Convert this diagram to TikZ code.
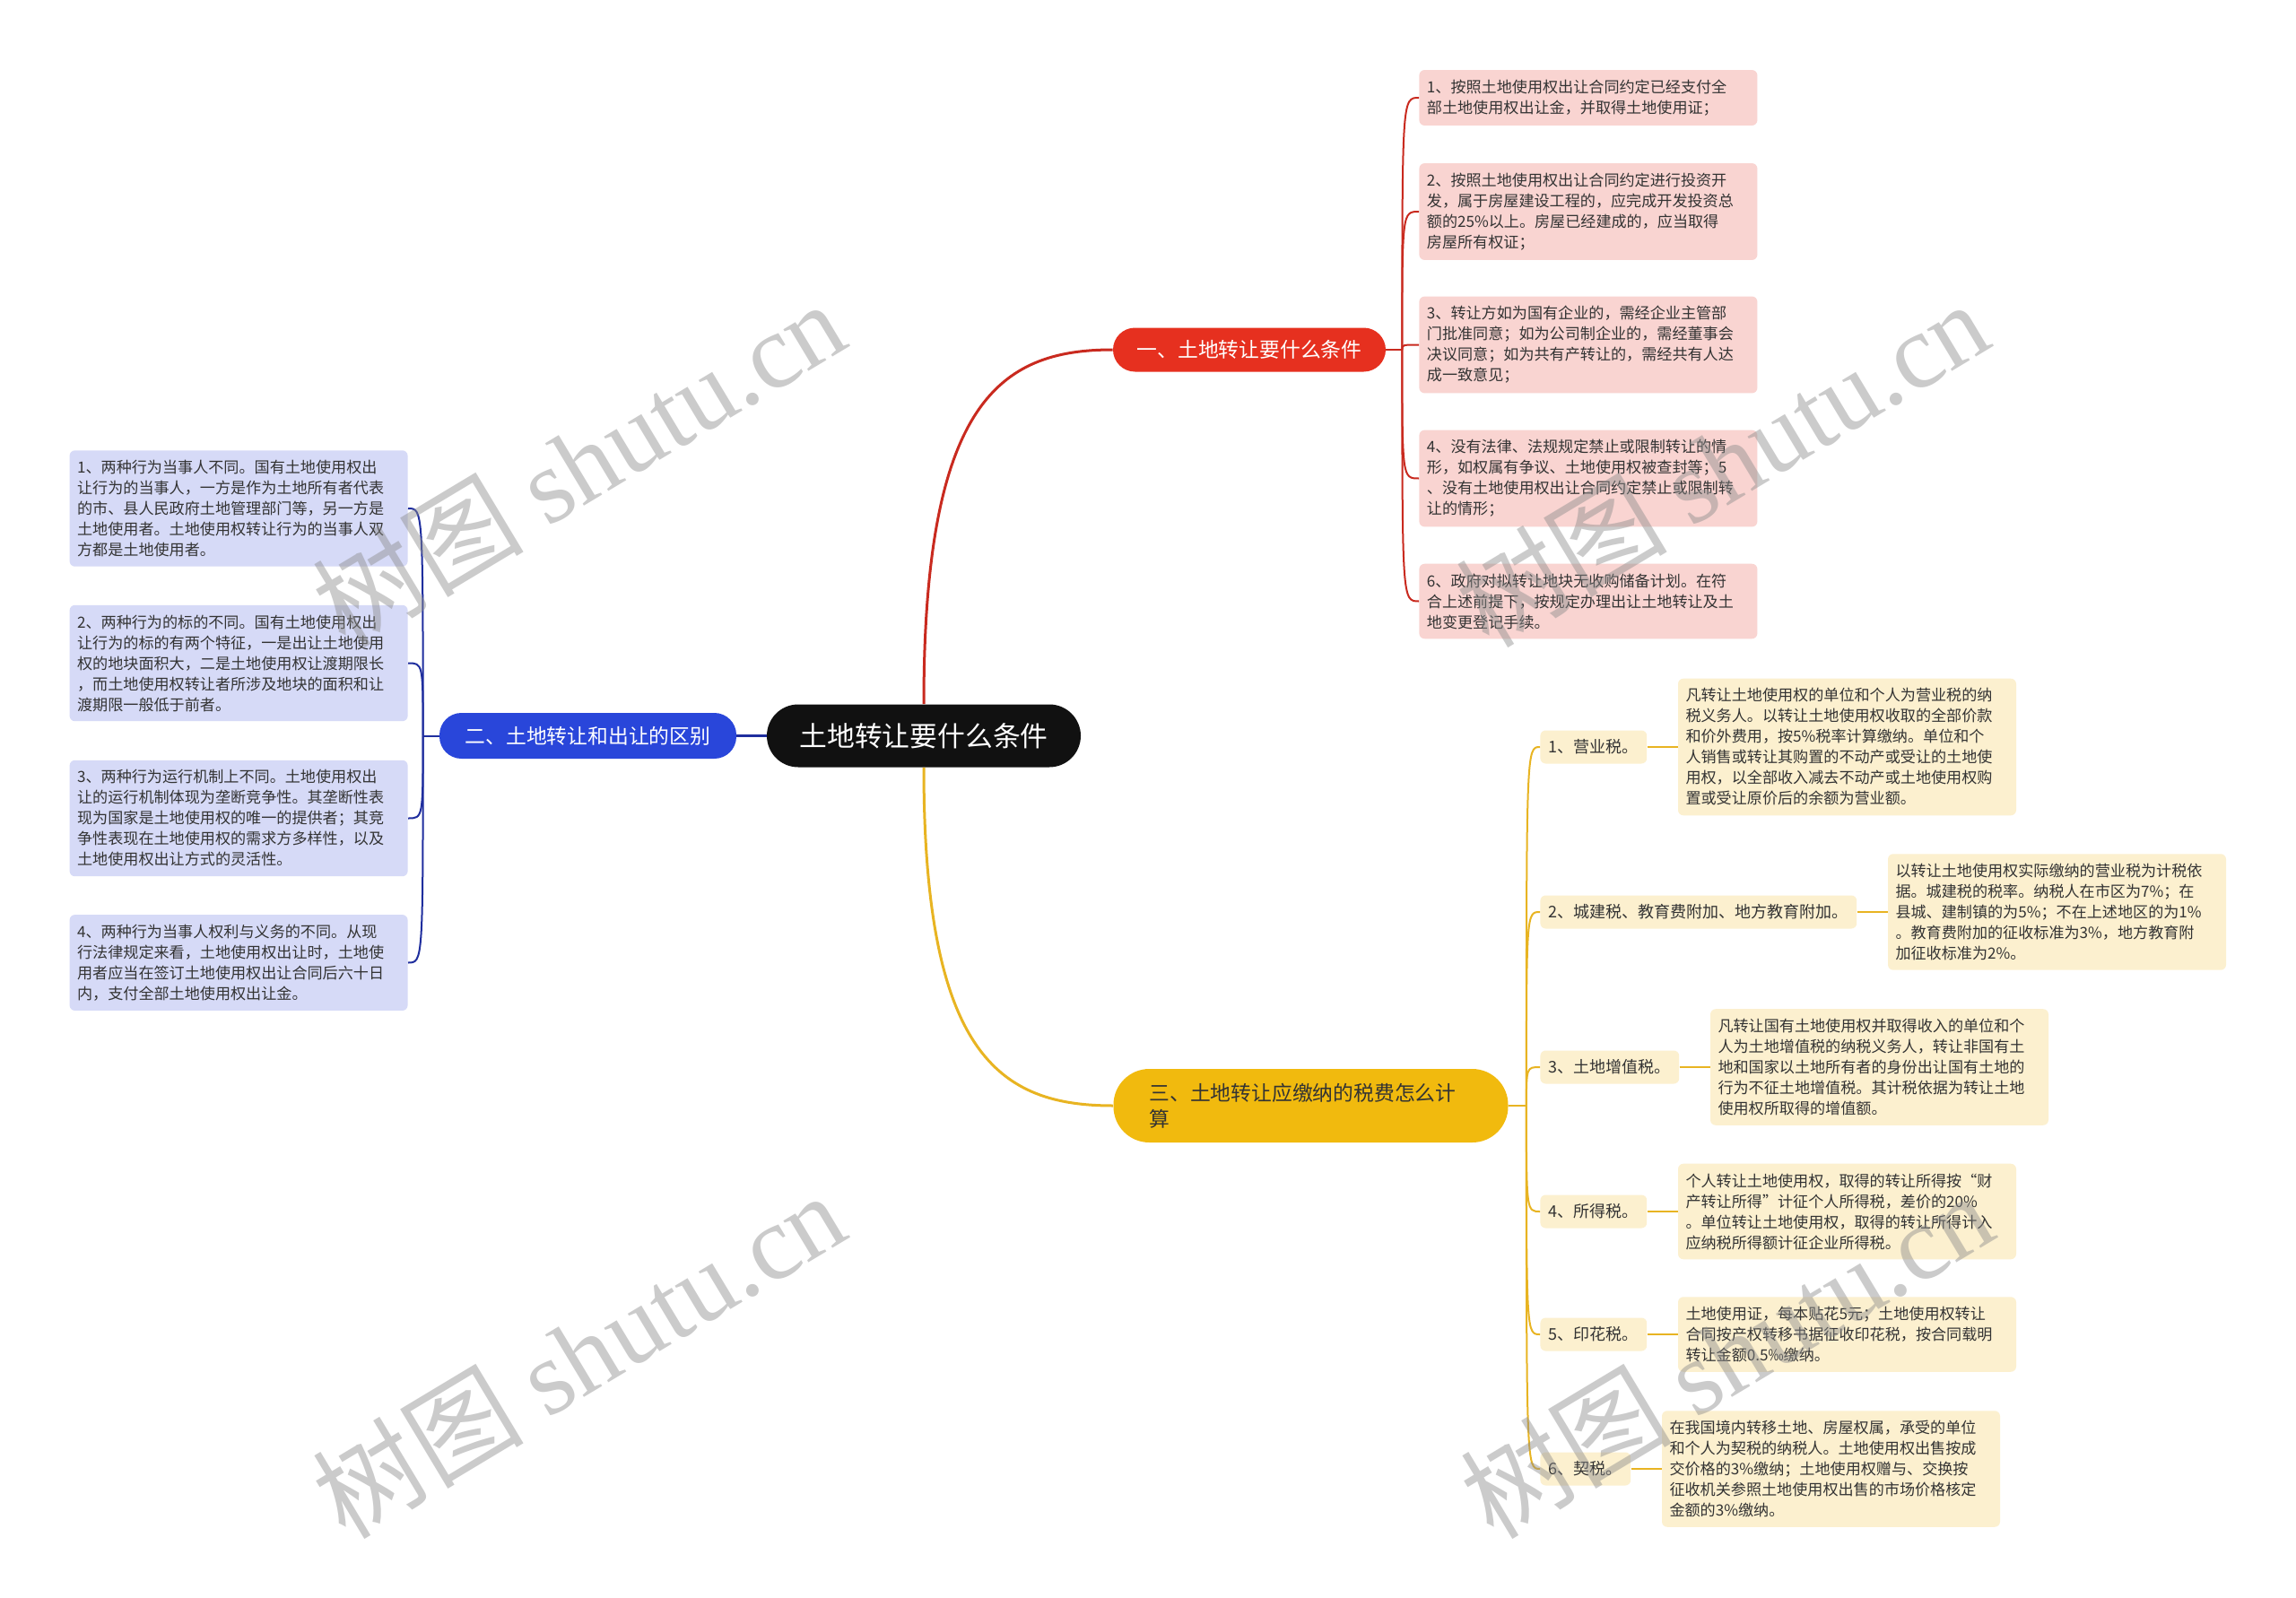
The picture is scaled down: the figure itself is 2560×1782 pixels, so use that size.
\documentclass[tikz,border=0pt]{standalone}
\usepackage{fontspec}
\setmainfont{Noto Sans CJK SC}
\newfontfamily\wmfont{Liberation Serif}
\usetikzlibrary{positioning,calc}
\definecolor{rootc}{HTML}{111111}
\definecolor{redc}{HTML}{E6301F}
\definecolor{redln}{HTML}{C92A1F}
\definecolor{redlf}{HTML}{F9D4D1}
\definecolor{bluec}{HTML}{2946DA}
\definecolor{blueln}{HTML}{1F2E9E}
\definecolor{bluelf}{HTML}{D6DAF7}
\definecolor{yelc}{HTML}{F1BA0E}
\definecolor{yelln}{HTML}{E8B422}
\definecolor{yellf}{HTML}{FCF0CF}
\definecolor{txt}{HTML}{333333}
\begin{document}
\begin{tikzpicture}[x=0.5pt,y=-0.5pt,
  leaf/.style={rounded corners=3pt,align=left,text width=180pt,inner xsep=4.25pt,inner ysep=5.4pt,text=txt,font=\fontsize{8.55}{11.5}\selectfont},
  rleaf/.style={leaf,fill=redlf,anchor=west},
  bleaf/.style={leaf,fill=bluelf,anchor=east},
  yleaf/.style={leaf,fill=yellf},
  ylab/.style={rounded corners=3pt,fill=yellf,text=txt,anchor=west,inner xsep=4.7pt,minimum height=18.5pt,font=\fontsize{9}{11}\selectfont},
  branch/.style={text=white,minimum height=24.5pt,rounded corners=12.25pt,font=\fontsize{11.4}{14}\selectfont},
  rline/.style={draw=redln,line width=1pt},
  bline/.style={draw=blueln,line width=1pt},
  yline/.style={draw=yelln,line width=1pt},
  wm/.style={text=black!45,opacity=0.45,rotate=31,font=\fontsize{59}{64}\selectfont}]
\path[use as bounding box,fill=white] (0,0) rectangle (2560,1782);
\node[fill=rootc,text=white,minimum width=175pt,minimum height=35pt,rounded corners=17.5pt,font=\fontsize{15.4}{18}\selectfont] (root) at (1030,820.5) {土地转让要什么条件};
\node[branch,fill=redc,minimum width=152pt] (red) at (1393,390) {一、土地转让要什么条件};
\node[branch,fill=bluec,minimum width=165.5pt,minimum height=25.5pt] (blue) at (655.5,820.5) {二、土地转让和出让的区别};
\node[fill=yelc,text=txt,align=left,text width=180pt,inner xsep=20pt,minimum height=41pt,rounded corners=20pt,font=\fontsize{11.4}{14.7}\selectfont] (yel) at (1461.5,1233) {三、土地转让应缴纳的税费怎么计\\算};

\node[rleaf] (r1) at (1582,109) {1、按照土地使用权出让合同约定已经支付全\\部土地使用权出让金，并取得土地使用证；};
\node[rleaf] (r2) at (1582,236) {2、按照土地使用权出让合同约定进行投资开\\发，属于房屋建设工程的，应完成开发投资总\\额的25\%以上。房屋已经建成的，应当取得\\房屋所有权证；};
\node[rleaf] (r3) at (1582,384.5) {3、转让方如为国有企业的，需经企业主管部\\门批准同意；如为公司制企业的，需经董事会\\决议同意；如为共有产转让的，需经共有人达\\成一致意见；};
\node[rleaf] (r4) at (1582,533.5) {4、没有法律、法规规定禁止或限制转让的情\\形，如权属有争议、土地使用权被查封等；5\\、没有土地使用权出让合同约定禁止或限制转\\让的情形；};
\node[rleaf] (r6) at (1582,670.5) {6、政府对拟转让地块无收购储备计划。在符\\合上述前提下，按规定办理出让土地转让及土\\地变更登记手续。};

\node[bleaf] (b1) at (455,567) {1、两种行为当事人不同。国有土地使用权出\\让行为的当事人，一方是作为土地所有者代表\\的市、县人民政府土地管理部门等，另一方是\\土地使用者。土地使用权转让行为的当事人双\\方都是土地使用者。};
\node[bleaf] (b2) at (455,739.5) {2、两种行为的标的不同。国有土地使用权出\\让行为的标的有两个特征，一是出让土地使用\\权的地块面积大，二是土地使用权让渡期限长\\，而土地使用权转让者所涉及地块的面积和让\\渡期限一般低于前者。};
\node[bleaf] (b3) at (455,912.5) {3、两种行为运行机制上不同。土地使用权出\\让的运行机制体现为垄断竞争性。其垄断性表\\现为国家是土地使用权的唯一的提供者；其竞\\争性表现在土地使用权的需求方多样性，以及\\土地使用权出让方式的灵活性。};
\node[bleaf] (b4) at (455,1073.5) {4、两种行为当事人权利与义务的不同。从现\\行法律规定来看，土地使用权出让时，土地使\\用者应当在签订土地使用权出让合同后六十日\\内，支付全部土地使用权出让金。};

\node[ylab] (l1) at (1717,833) {1、营业税。};
\node[ylab] (l2) at (1717,1017) {2、城建税、教育费附加、地方教育附加。};
\node[ylab] (l3) at (1717,1190) {3、土地增值税。};
\node[ylab] (l4) at (1717,1351) {4、所得税。};
\node[ylab] (l5) at (1717,1488) {5、印花税。};
\node[ylab] (l6) at (1717,1638) {6、契税。};

\node[yleaf,right=17pt of l1] (d1) {凡转让土地使用权的单位和个人为营业税的纳\\税义务人。以转让土地使用权收取的全部价款\\和价外费用，按5\%税率计算缴纳。单位和个\\人销售或转让其购置的不动产或受让的土地使\\用权，以全部收入减去不动产或土地使用权购\\置或受让原价后的余额为营业额。};
\node[yleaf,right=17pt of l2] (d2) {以转让土地使用权实际缴纳的营业税为计税依\\据。城建税的税率。纳税人在市区为7\%；在\\县城、建制镇的为5\%；不在上述地区的为1\%\\。教育费附加的征收标准为3\%，地方教育附\\加征收标准为2\%。};
\node[yleaf,right=17pt of l3] (d3) {凡转让国有土地使用权并取得收入的单位和个\\人为土地增值税的纳税义务人，转让非国有土\\地和国家以土地所有者的身份出让国有土地的\\行为不征土地增值税。其计税依据为转让土地\\使用权所取得的增值额。};
\node[yleaf,right=17pt of l4] (d4) {个人转让土地使用权，取得的转让所得按“财\\产转让所得”计征个人所得税，差价的20\%\\。单位转让土地使用权，取得的转让所得计入\\应纳税所得额计征企业所得税。};
\node[yleaf,right=17pt of l5] (d5) {土地使用证，每本贴花5元；土地使用权转让\\合同按产权转移书据征收印花税，按合同载明\\转让金额0.5‰缴纳。};
\node[yleaf,right=17pt of l6] (d6) {在我国境内转移土地、房屋权属，承受的单位\\和个人为契税的纳税人。土地使用权出售按成\\交价格的3\%缴纳；土地使用权赠与、交换按\\征收机关参照土地使用权出售的市场价格核定\\金额的3\%缴纳。};

\coordinate (rc) at (root.north |- red.west);
\coordinate (yc) at (root.south |- yel.west);
\draw[redln,line width=1.5pt] (root.north) .. controls ($(root.north)!.85!(rc)$) and ($(red.west)!.6!(rc)$) .. (red.west);
\draw[yelln,line width=1.5pt] (root.south) .. controls ($(root.south)!.85!(yc)$) and ($(yel.west)!.6!(yc)$) .. (yel.west);
\draw[blueln,line width=1.5pt] (root.west) -- (blue.east);

\coordinate (rj) at ($(red.east)+(18,0)$);
\coordinate (bj) at ($(blue.west)+(-18,0)$);
\coordinate (yj) at ($(yel.east)+(20,0)$);
\draw[rline] (red.east) -- (rj);
\draw[bline] (blue.west) -- (bj);
\draw[yline] (yel.east) -- (yj);
\foreach \n in {r1,r2,r3,r4,r6}
  \draw[rline] (rj) .. controls (rj |- \n.west) .. (\n.west);
\foreach \n in {b1,b2,b3,b4}
  \draw[bline] (bj) .. controls (bj |- \n.east) .. (\n.east);
\foreach \n in {l1,l2,l3,l4,l5,l6}
  \draw[yline] (yj) .. controls (yj |- \n.west) .. (\n.west);
\foreach \i in {1,...,6}
  \draw[yline] (l\i.east) -- (d\i.west);

\node[wm] (w1) at (645,516) {树图 {\wmfont shutu.cn}};
\node[wm] (w2) at (645,1510) {树图 {\wmfont shutu.cn}};
\node[wm] (w3) at (1920,516) {树图 {\wmfont shutu.cn}};
\node[wm] (w4) at (1925,1510) {树图 {\wmfont shutu.cn}};
\end{tikzpicture}
\end{document}
